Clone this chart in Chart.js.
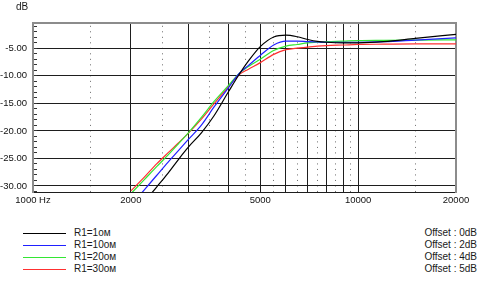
<!DOCTYPE html>
<html><head><meta charset="utf-8">
<script src="https://cdn.jsdelivr.net/npm/chart.js@4"></script>
<style>
html,body{margin:0;padding:0;background:#fff;}
#wrap{position:relative;width:480px;height:289px;overflow:hidden;font-family:"Liberation Sans",Arial,sans-serif;color:#1a1a1a;}
#c{position:absolute;left:0;top:0;}
.tx{position:absolute;font-size:10px;line-height:12px;white-space:nowrap;}
.ln{position:absolute;height:1px;}
</style></head><body>
<div id="wrap"><canvas id="c" width="480" height="215" style="width:480px;height:215px"></canvas></div>
<script>
// ---- data ----
const unitLabel = 'dB';
const freqs = [2000, 2200, 2400, 2600, 2800, 3000, 3300, 3600, 4000, 4300, 4600, 5000, 5500, 6000, 6500, 7000, 7500, 8000, 9000, 10000, 12000, 15000, 20000];
const r1_1  = [-36, -32.9, -30.2, -27.7, -25.2, -23.0, -20.3, -17.3, -12.8, -9.8, -7.3, -4.7, -2.95, -2.6, -2.9, -3.4, -3.75, -3.9, -4.0, -4.0, -3.8, -3.2, -2.45];
const r1_10 = [-33.6, -30.7, -28.1, -25.7, -23.6, -21.6, -18.9, -15.7, -12.1, -9.6, -8.1, -6.3, -4.4, -3.7, -3.7, -3.8, -3.85, -3.9, -3.9, -3.9, -3.8, -3.5, -3.1];
const r1_20 = [-31.4, -28.85, -26.5, -24.4, -22.35, -20.4, -17.5, -14.7, -11.7, -9.6, -8.3, -7.0, -5.4, -4.6, -4.3, -4.0, -3.9, -3.8, -3.7, -3.6, -3.55, -3.5, -3.45];
const r1_30 = [-30.9, -28.4, -26.0, -24.0, -22.2, -20.45, -17.8, -15.1, -11.9, -9.8, -8.8, -7.6, -6.1, -5.25, -4.95, -4.8, -4.6, -4.5, -4.4, -4.3, -4.25, -4.2, -4.2];
const seriesNames   = ['R1=1ом', 'R1=10ом', 'R1=20ом', 'R1=30ом'];
const seriesOffsets = ['Offset : 0dB', 'Offset : 2dB', 'Offset : 4dB', 'Offset : 5dB'];
const seriesValues  = [r1_1, r1_10, r1_20, r1_30];
const seriesColors  = ['#000000', '#2020ff', '#33e633', '#ff3030'];
const xTickValues  = [1000, 1500, 2000, 2500, 3000, 3500, 4000, 4500, 5000, 5500, 6000, 6500, 7000, 7500, 8000, 8500, 9000, 9500, 10000, 15000, 20000];
const xMajorValues = [1000, 2000, 3000, 4000, 5000, 6000, 7000, 8000, 9000, 10000, 20000];
const xLabelValues = [1000, 2000, 5000, 10000, 20000];
const xLabelTexts  = ['1000 Hz', '2000', '5000', '10000', '20000'];
const yTickValues  = [-31, -30, -29, -28, -27, -26, -25, -24, -23, -22, -21, -20, -19, -18, -17, -16, -15, -14, -13, -12, -11, -10, -9, -8, -7, -6, -5, -4, -3, -2, -1];
const yLabelValues = [-30, -25, -20, -15, -10, -5];
const yLabelTexts  = ['-30.00', '-25.00', '-20.00', '-15.00', '-10.00', '-5.00'];
const yMin = -31.1, yMax = -0.4, xMin = 1000, xMax = 20000;

// ---- chart ----
const FONT = '"Liberation Sans", Arial, sans-serif';
const frameColor = '#8c8c8c';
const gridColor = '#1e1e1e';
const pxPerDb = 169 / (yMax - yMin);
const dotOffset = pxPerDb - ((-1 - yMax) * -1 * pxPerDb - 0.5);

new Chart(document.getElementById('c'), {
  type: 'line',
  data: {
    datasets: seriesNames.map((n, i) => ({
      label: n,
      data: freqs.map((f, j) => ({x: f, y: seriesValues[i][j]})),
      borderColor: seriesColors[i],
      borderWidth: 1.2,
      pointRadius: 0,
      cubicInterpolationMode: 'monotone',
      xAxisID: 'x', yAxisID: 'y'
    }))
  },
  options: {
    responsive: false,
    animation: false,
    layout: {padding: {top: 23, right: 24, bottom: 3, left: 0}},
    plugins: {legend: {display: false}, tooltip: {enabled: false}},
    scales: {
      x: {
        type: 'logarithmic', position: 'bottom', min: xMin, max: xMax,
        afterBuildTicks: a => { a.ticks = xTickValues.map(v => ({value: v})); },
        afterFit: a => { a.height = 20; },
        ticks: {
          autoSkip: false, maxRotation: 0, minRotation: 0, padding: 3, color: '#111',
          font: {family: FONT, size: 9.5},
          callback: v => { const i = xLabelValues.indexOf(v); return i < 0 ? '' : xLabelTexts[i]; }
        },
        grid: {
          drawTicks: false, lineWidth: 1,
          color: c => (c.tick && xMajorValues.includes(c.tick.value)) ? gridColor : '#6a6a6a'
        },
        border: {
          color: gridColor, width: 1,
          dash: c => (c.tick && !xMajorValues.includes(c.tick.value)) ? [1, pxPerDb - 1] : [],
          dashOffset: dotOffset
        }
      },
      xTop: {
        axis: 'x', type: 'logarithmic', position: 'top', min: xMin, max: xMax,
        ticks: {display: false}, grid: {display: false, drawTicks: false},
        border: {color: frameColor, width: 2},
        afterFit: a => { a.height = 0; }
      },
      y: {
        type: 'linear', position: 'left', min: yMin, max: yMax,
        afterBuildTicks: a => { a.ticks = yTickValues.map(v => ({value: v})); },
        afterFit: a => { a.width = 33; },
        ticks: {
          autoSkip: false, padding: 10, color: '#111',
          font: {family: FONT, size: 9.5},
          callback: v => { const i = yLabelValues.indexOf(v); return i < 0 ? '' : yLabelTexts[i]; }
        },
        grid: {
          drawTicks: true, tickLength: -4, lineWidth: 1,
          color: c => (c.tick && yLabelValues.includes(c.tick.value)) ? gridColor : 'rgba(0,0,0,0)',
          tickColor: '#333'
        },
        border: {color: frameColor, width: 2}
      },
      yRight: {
        axis: 'y', type: 'linear', position: 'right', min: yMin, max: yMax,
        ticks: {display: false}, grid: {display: false, drawTicks: false},
        border: {color: frameColor, width: 2},
        afterFit: a => { a.width = 0; }
      }
    }
  }
});

// ---- text and legend ----
const wrap = document.getElementById('wrap');
function addText(txt, style) {
  const d = document.createElement('div');
  d.className = 'tx'; d.textContent = txt;
  Object.assign(d.style, style);
  wrap.appendChild(d);
}
addText(unitLabel, {left: '16px', top: '1px'});
const rowY = [233, 245, 257, 269];
seriesNames.forEach((n, i) => {
  const l = document.createElement('div');
  l.className = 'ln';
  Object.assign(l.style, {left: '23px', width: '43px', top: rowY[i] + 'px', background: seriesColors[i]});
  wrap.appendChild(l);
  addText(n, {left: '74px', top: (rowY[i] - 6) + 'px'});
  addText(seriesOffsets[i], {right: '3px', top: (rowY[i] - 6) + 'px'});
});
</script>
</body></html>
